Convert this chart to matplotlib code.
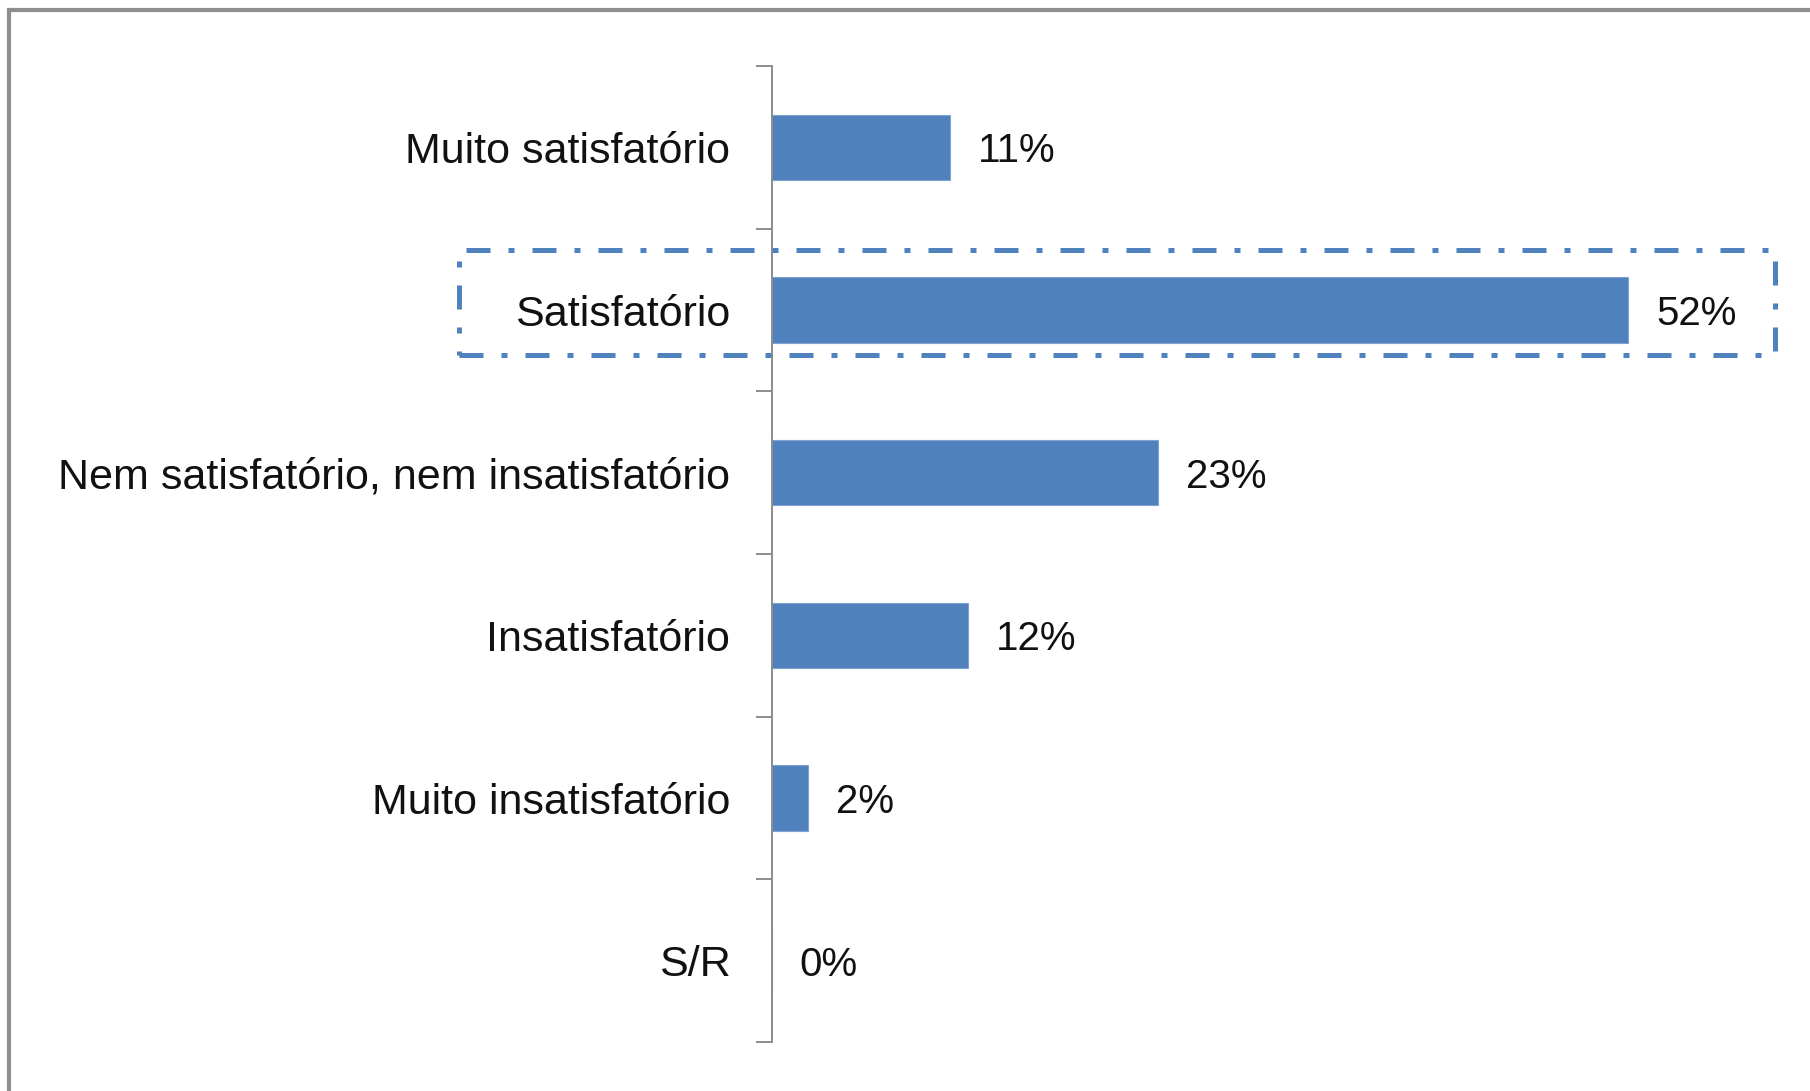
import matplotlib
matplotlib.use('Agg')
import matplotlib.pyplot as plt
from matplotlib.patches import Rectangle
from matplotlib.lines import Line2D

# Data (bar lengths, labels as printed)
categories = ['Muito satisfatório', 'Satisfatório', 'Nem satisfatório, nem insatisfatório',
              'Insatisfatório', 'Muito insatisfatório', 'S/R']
values = [10.8, 51.9, 23.4, 11.9, 2.2, 0]
labels = ['11%', '52%', '23%', '12%', '2%', '0%']

plt.rcParams['font.family'] = ['Liberation Sans', 'DejaVu Sans']

W, H = 1810, 1091
fig = plt.figure(figsize=(W / 100, H / 100), dpi=100)
ax = fig.add_axes([772 / W, 1 - 1042 / H, (1800 - 772) / W, (1042 - 66) / H])

bar_color = '#4F81BD'
y = list(range(len(categories)))
ax.barh(y, values, height=0.4, color=bar_color, edgecolor='#7FA3D1', linewidth=0.8)
ax.set_xlim(0, (1800 - 772) / 16.5)
ax.set_ylim(len(categories) - 0.5, -0.5)

# category labels on minor ticks, tick marks between categories
ax.set_yticks([i - 0.5 for i in range(len(categories) + 1)])
ax.set_yticklabels([])
ax.set_yticks(y, minor=True)
ax.set_yticklabels(categories, minor=True, fontsize=31, color='#111111')
ax.tick_params(axis='y', which='major', length=11.5, width=1.4, color='#8C8C8C', direction='out')
ax.tick_params(axis='y', which='minor', length=0, pad=30)
ax.set_xticks([])

for s in ['top', 'right', 'bottom']:
    ax.spines[s].set_visible(False)
ax.spines['left'].set_color('#8C8C8C')
ax.spines['left'].set_linewidth(1.4)

for yi, v, lab in zip(y, values, labels):
    ax.annotate(lab, (v, yi), xytext=(20, -3), textcoords='offset points',
                va='center', ha='left', fontsize=29, color='#111111')

# outer frame (only top and left visible in the crop)
fig.add_artist(Line2D([9 / W, 9 / W], [0, 1 - 10 / H], transform=fig.transFigure,
                      color='#8E8E8E', linewidth=3))
fig.add_artist(Line2D([9 / W, 1], [1 - 10 / H, 1 - 10 / H], transform=fig.transFigure,
                      color='#8E8E8E', linewidth=3))

# dash-dot highlight around "Satisfatório"
fig.add_artist(Rectangle((459 / W, 1 - 355 / H), (1775 - 459) / W, (355 - 250) / H,
                         transform=fig.transFigure, fill=False, edgecolor=bar_color,
                         linewidth=3.6, linestyle=(0, (4.8, 3.6, 1.2, 3.6))))

fig.savefig('out.png', dpi=100, facecolor='white')
